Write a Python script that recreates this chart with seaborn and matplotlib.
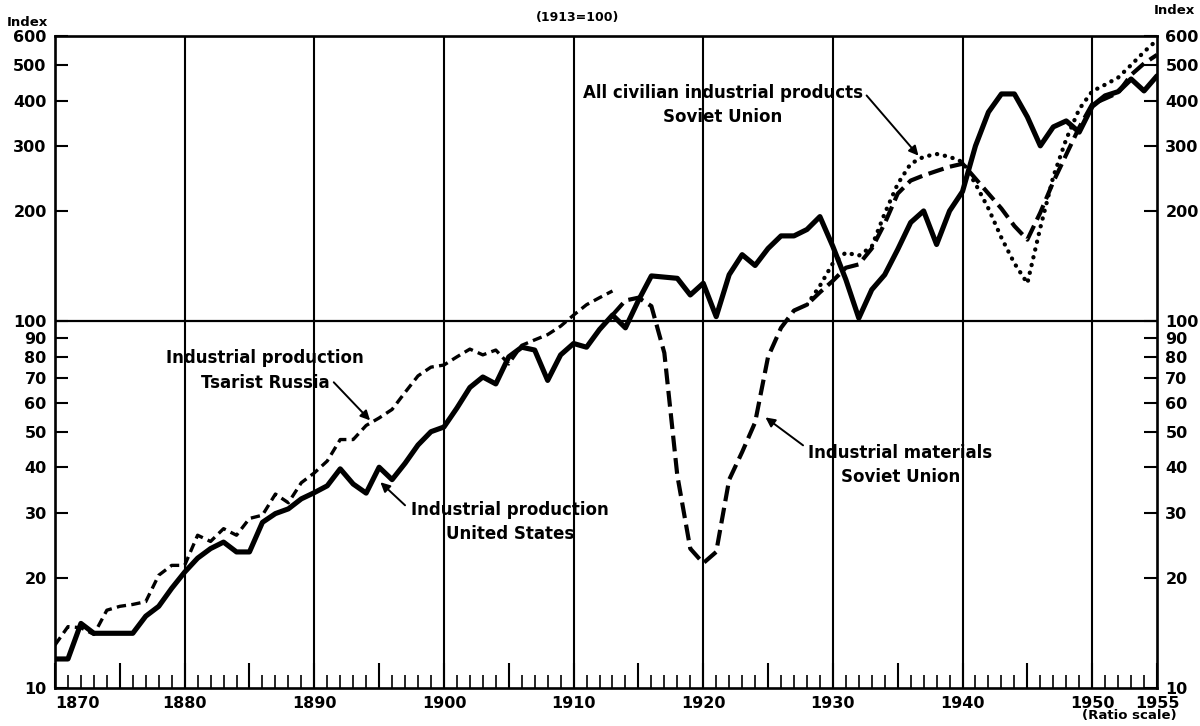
import matplotlib
matplotlib.use("Agg")
import matplotlib.pyplot as plt
import seaborn as sns
from matplotlib.ticker import FixedLocator, FixedFormatter, NullLocator

# ---- series (index, 1913 = 100) ----
years_us = list(range(1870, 1956))
us_production = [
    12.0, 12.0, 15.0, 14.1, 14.1, 14.1, 14.1, 15.7, 16.7, 18.7,      # 1870s
    20.7, 22.6, 24.0, 25.0, 23.5, 23.5, 28.3, 29.9, 30.8, 32.8,      # 1880s
    34.1, 35.6, 39.6, 36.0, 34.0, 40.0, 37.0, 41.0, 46.0, 50.0,      # 1890s
    51.5, 58.0, 66.0, 70.5, 67.5, 80.0, 85.0, 83.5, 69.0, 81.0,      # 1900s
    87.0, 85.0, 95.0, 104.0, 96.0, 114.0, 133.0, 132.0, 131.0, 118.0,  # 1910s
    127.0, 103.0, 134.0, 152.0, 142.0, 158.0, 171.0, 171.0, 178.0, 193.0,  # 1920s
    160.0, 130.0, 102.0, 122.0, 134.0, 157.0, 186.0, 200.0, 162.0, 200.0,  # 1930s
    226.0, 301.0, 372.0, 417.0, 417.0, 361.0, 301.0, 339.0, 352.0, 328.0,  # 1940s
    386.0, 412.0, 423.0, 458.0, 425.0, 467.0,                        # 1950-55
]

years_tsarist = list(range(1870, 1914))
tsarist_production = [
    13.1, 14.7, 14.6, 14.0, 16.3, 16.7, 16.9, 17.2, 20.3, 21.6,
    21.6, 26.1, 25.1, 27.2, 26.1, 29.0, 29.6, 33.8, 32.0, 36.3,
    38.6, 41.6, 47.6, 47.6, 52.0, 54.5, 57.5, 64.0, 71.0, 75.0,
    76.0, 80.0, 84.0, 81.0, 83.5, 76.5, 86.0, 89.0, 92.0, 97.0,
    104.0, 111.0, 116.0, 121.0,
]

years_materials = list(range(1913, 1956))
soviet_materials = [
    104.0, 114.0, 116.0, 110.0, 82.0, 38.0, 24.0,
    21.9, 23.5, 37.0, 44.0, 53.0, 80.0, 96.0, 107.0, 111.0, 120.0,
    129.0, 140.0, 143.0, 158.0, 185.0, 223.0, 242.0, 250.0, 257.0, 264.0,
    269.0, 245.0, 223.0, 203.0, 182.0, 167.0, 198.0, 240.0, 285.0, 338.0,
    391.0, 405.0, 420.0, 470.0, 505.0, 533.0,
]

years_civilian = list(range(1928, 1956))
soviet_civilian = [
    111.0, 125.0,
    144.0, 154.0, 151.0, 160.0, 197.0, 237.0, 269.0, 281.0, 286.0, 281.0,
    272.0, 237.0, 203.0, 169.0, 144.0, 127.0, 180.0, 248.0, 314.0, 379.0,
    424.0, 442.0, 462.0, 500.0, 543.0, 585.0,
]

# ---- axis furniture ----
decades = [1880, 1890, 1900, 1910, 1920, 1930, 1940, 1950]
x_major = [1870, 1875, 1880, 1885, 1890, 1895, 1900, 1905, 1910,
           1915, 1920, 1925, 1930, 1935, 1940, 1945, 1950, 1955]
x_major_labels = ["1870", "", "1880", "", "1890", "", "1900", "", "1910",
                  "", "1920", "", "1930", "", "1940", "", "1950", "1955"]
x_minor = list(range(1870, 1956))
y_ticks = [10, 20, 30, 40, 50, 60, 70, 80, 90, 100, 200, 300, 400, 500, 600]
y_labels = ["10", "20", "30", "40", "50", "60", "70", "80", "90",
            "100", "200", "300", "400", "500", "600"]

sns.set_style("white")
plt.rcParams["font.family"] = ["DejaVu Sans"]
plt.rcParams["text.color"] = "black"

fig = plt.figure(figsize=(12, 7.26), dpi=100)
fig.patch.set_facecolor("white")
ax = fig.add_axes([55 / 1200, 38 / 726, 1102 / 1200, 652 / 726])
ax.set_yscale("log")

# United States: heavy solid line
sns.lineplot(x=years_us, y=us_production, ax=ax, color="black", lw=3.7,
             solid_joinstyle="round", solid_capstyle="round")
# Tsarist Russia: short dashes
sns.lineplot(x=years_tsarist, y=tsarist_production, ax=ax, color="black", lw=2.4)
ax.lines[-1].set_dashes((2.8, 1.6))
# Soviet industrial materials: long dashes
sns.lineplot(x=years_materials, y=soviet_materials, ax=ax, color="black", lw=3.0)
ax.lines[-1].set_dashes((3.8, 1.6))
# Soviet civilian products: dots
sns.lineplot(x=years_civilian, y=soviet_civilian, ax=ax, color="black", lw=3.1,
             dash_capstyle="round")
ax.lines[-1].set_dashes((0.05, 1.8))

# decade rulings and the base line at 100
ax.vlines(decades, 10, 600, color="black", lw=1.5, zorder=1)
ax.axhline(100, color="black", lw=1.6, zorder=1)

ax.set_xlim(1870, 1955)
ax.set_ylim(10, 600)
ax.set_xlabel("")
ax.set_ylabel("")

for s in ax.spines.values():
    s.set_color("black")
    s.set_linewidth(1.9)

ax.yaxis.set_major_locator(FixedLocator(y_ticks))
ax.yaxis.set_major_formatter(FixedFormatter(y_labels))
ax.yaxis.set_minor_locator(NullLocator())
ax.tick_params(axis="y", which="major", direction="in", length=9.5, width=1.5,
               left=True, right=True, labelleft=True, labelright=True,
               labelsize=11.5, pad=6, colors="black")

ax.xaxis.set_major_locator(FixedLocator(x_major))
ax.xaxis.set_major_formatter(FixedFormatter(x_major_labels))
ax.xaxis.set_minor_locator(FixedLocator(x_minor))
ax.tick_params(axis="x", which="major", direction="in", length=18, width=1.5,
               bottom=True, top=False, labelsize=11.5, pad=6, colors="black")
ax.tick_params(axis="x", which="minor", direction="in", length=9.5, width=1.4,
               bottom=True, top=False)

for lab in ax.get_yticklabels():
    lab.set_fontweight("bold")
xlabs = ax.get_xticklabels()
for lab in xlabs:
    lab.set_fontweight("bold")
xlabs[0].set_horizontalalignment("left")

# headings around the frame
fig.text(27 / 1200, 1 - 23 / 726, "Index", ha="center", va="center",
         fontsize=9.5, fontweight="bold")
fig.text(1174 / 1200, 1 - 10 / 726, "Index", ha="center", va="center",
         fontsize=9.5, fontweight="bold")
fig.text(578 / 1200, 1 - 17 / 726, "(1913=100)", ha="center", va="center",
         fontsize=9, fontweight="bold")
fig.text(1129 / 1200, 1 - 716 / 726, "(Ratio scale)", ha="center", va="center",
         fontsize=9.5, fontweight="bold")

# series labels with pointers
arrow = dict(arrowstyle="-|>", color="black", lw=1.4, mutation_scale=14,
             shrinkA=0, shrinkB=0)
label_kw = dict(ha="center", va="center", fontsize=12, fontweight="bold",
                linespacing=1.45, multialignment="center")

ax.annotate("All civilian industrial products\nSoviet Union",
            xy=(1921.5, 389), **label_kw)
ax.annotate("", xy=(1936.6, 283), xytext=(1932.6, 413), arrowprops=arrow)

ax.annotate("Industrial production\nTsarist Russia", xy=(1886.2, 73.5), **label_kw)
ax.annotate("", xy=(1894.3, 53.7), xytext=(1891.5, 68.2), arrowprops=arrow)

ax.annotate("Industrial production\nUnited States", xy=(1905.1, 28.3), **label_kw)
ax.annotate("", xy=(1895.1, 36.4), xytext=(1897.0, 31.5), arrowprops=arrow)

ax.annotate("Industrial materials\nSoviet Union", xy=(1935.2, 40.6), **label_kw)
ax.annotate("", xy=(1924.8, 54.7), xytext=(1927.7, 45.9), arrowprops=arrow)

fig.savefig("out.png", dpi=100, facecolor="white")
